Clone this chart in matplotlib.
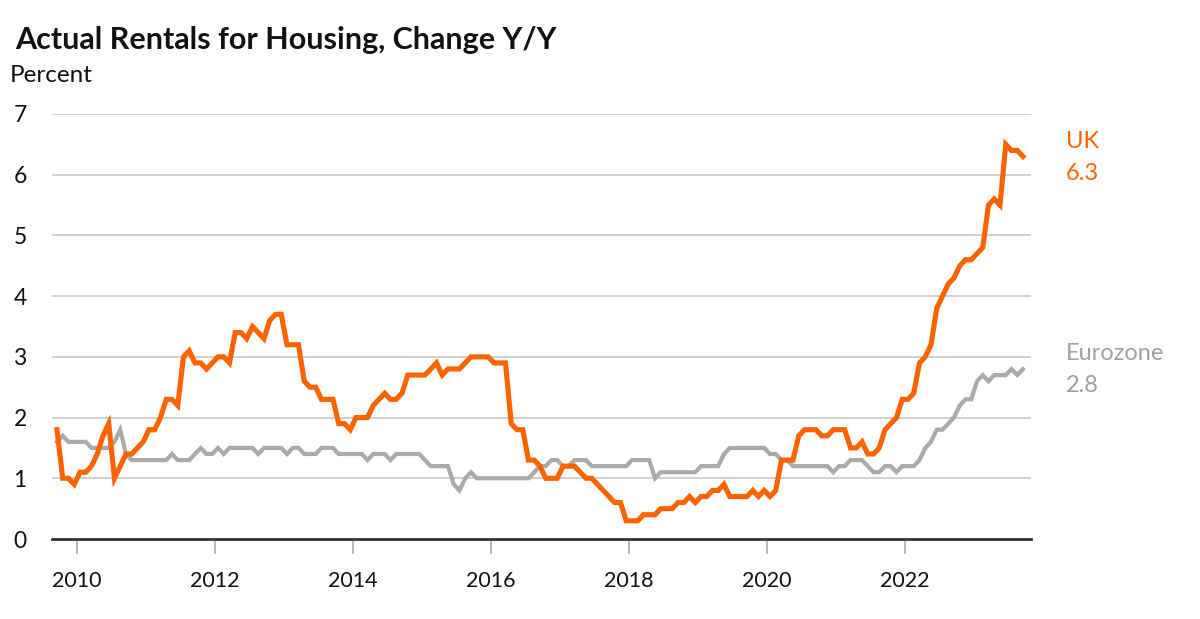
import matplotlib
matplotlib.use("Agg")
import matplotlib.pyplot as plt
import numpy as np

# Monthly data, first point ~Sep/Oct 2009, last ~Sep 2023
start_year = 2009.71
uk = [1.8, 1.0, 1.0, 0.9, 1.1, 1.1, 1.2, 1.4, 1.7, 1.9, 1.0, 1.2, 1.4, 1.4, 1.5, 1.6,
      1.8, 1.8, 2.0, 2.3, 2.3, 2.2, 3.0, 3.1,
      2.9, 2.9, 2.8, 2.9, 3.0, 3.0, 2.9, 3.4, 3.4, 3.3, 3.5, 3.4, 3.3, 3.6, 3.7, 3.7,
      3.2, 3.2, 3.2, 2.6, 2.5, 2.5, 2.3, 2.3, 2.3, 1.9, 1.9, 1.8, 2.0, 2.0, 2.0, 2.2,
      2.3, 2.4, 2.3, 2.3, 2.4, 2.7, 2.7, 2.7, 2.7, 2.8, 2.9, 2.7, 2.8, 2.8, 2.8, 2.9,
      3.0, 3.0, 3.0, 3.0, 2.9, 2.9, 2.9, 1.9, 1.8, 1.8, 1.3, 1.3, 1.2, 1.0, 1.0, 1.0,
      1.2, 1.2, 1.2, 1.1, 1.0, 1.0, 0.9, 0.8, 0.7, 0.6, 0.6, 0.3, 0.3, 0.3, 0.4, 0.4,
      0.4, 0.5, 0.5, 0.5, 0.6, 0.6, 0.7, 0.6, 0.7, 0.7, 0.8, 0.8, 0.9, 0.7, 0.7, 0.7,
      0.7, 0.8, 0.7, 0.8, 0.7, 0.8, 1.3, 1.3, 1.3, 1.7, 1.8, 1.8, 1.8, 1.7, 1.7, 1.8,
      1.8, 1.8, 1.5, 1.5, 1.6, 1.4, 1.4, 1.5, 1.8, 1.9, 2.0, 2.3, 2.3, 2.4, 2.9, 3.0,
      3.2, 3.8, 4.0, 4.2, 4.3, 4.5, 4.6, 4.6, 4.7, 4.8, 5.5, 5.6, 5.5, 6.5, 6.4, 6.4,
      6.3]
eurozone = [1.6, 1.7, 1.6, 1.6, 1.6, 1.6, 1.5, 1.5, 1.5, 1.5, 1.6, 1.8, 1.4, 1.3, 1.3, 1.3,
            1.3, 1.3, 1.3, 1.3, 1.4, 1.3, 1.3, 1.3,
            1.4, 1.5, 1.4, 1.4, 1.5, 1.4, 1.5, 1.5, 1.5, 1.5, 1.5, 1.4, 1.5, 1.5, 1.5, 1.5,
            1.4, 1.5, 1.5, 1.4, 1.4, 1.4, 1.5, 1.5, 1.5, 1.4, 1.4, 1.4, 1.4, 1.4, 1.3, 1.4,
            1.4, 1.4, 1.3, 1.4, 1.4, 1.4, 1.4, 1.4, 1.3, 1.2, 1.2, 1.2, 1.2, 0.9, 0.8, 1.0,
            1.1, 1.0, 1.0, 1.0, 1.0, 1.0, 1.0, 1.0, 1.0, 1.0, 1.0, 1.1, 1.2, 1.2, 1.3, 1.3,
            1.2, 1.2, 1.3, 1.3, 1.3, 1.2, 1.2, 1.2, 1.2, 1.2, 1.2, 1.2, 1.3, 1.3, 1.3, 1.3,
            1.0, 1.1, 1.1, 1.1, 1.1, 1.1, 1.1, 1.1, 1.2, 1.2, 1.2, 1.2, 1.4, 1.5, 1.5, 1.5,
            1.5, 1.5, 1.5, 1.5, 1.4, 1.4, 1.3, 1.3, 1.2, 1.2, 1.2, 1.2, 1.2, 1.2, 1.2, 1.1,
            1.2, 1.2, 1.3, 1.3, 1.3, 1.2, 1.1, 1.1, 1.2, 1.2, 1.1, 1.2, 1.2, 1.2, 1.3, 1.5,
            1.6, 1.8, 1.8, 1.9, 2.0, 2.2, 2.3, 2.3, 2.6, 2.7, 2.6, 2.7, 2.7, 2.7, 2.8, 2.7,
            2.8]
year_ticks = [2010, 2012, 2014, 2016, 2018, 2020, 2022]
y_ticks = [0, 1, 2, 3, 4, 5, 6, 7]
title = "Actual Rentals for Housing, Change Y/Y"
unit_label = "Percent"

ORANGE = "#FF6200"
GREY = "#AAAAAA"
FONT = "Lato"

t = start_year + np.arange(len(uk)) / 12.0

fig = plt.figure(figsize=(12, 6.19), dpi=100)
ax = fig.add_axes([52/1200, 80/619, 979/1200, 425/619])

for yv in y_ticks[1:]:
    ax.axhline(yv, color="#C8C8C8", lw=1.2, zorder=1)

ax.plot(t, eurozone, color=GREY, lw=3.0, zorder=3, solid_joinstyle="miter")
ax.plot(t, uk, color=ORANGE, lw=3.7, zorder=4, solid_joinstyle="miter")

ax.set_xlim(2009.638, 2023.826)
ax.set_ylim(0, 7)
for s in ["top", "right", "left"]:
    ax.spines[s].set_visible(False)
ax.spines["bottom"].set_color("#333333")
ax.spines["bottom"].set_linewidth(2)
ax.spines["bottom"].set_zorder(5)

ax.set_xticks(year_ticks)
ax.set_xticklabels([str(y) for y in year_ticks], fontsize=15.5, family=FONT, color="#111111")
ax.tick_params(axis="x", direction="out", length=11, width=1.2, color="#AAAAAA", pad=12)
ax.set_yticks(y_ticks)
ax.set_yticklabels([str(v) for v in y_ticks], fontsize=16.5, family=FONT, color="#111111",
                   ha="center")
ax.tick_params(axis="y", length=0, pad=23)

fig.text(15/1200, 1 - 40/619, title, fontsize=22, fontweight="bold", family=FONT,
         color="#111111", va="center", ha="left")
fig.text(10/1200, 1 - 75/619, unit_label, fontsize=17.5, family=FONT, color="#111111",
         va="center", ha="left")

fig.text(1066/1200, 1 - 141/619, "UK", fontsize=17, family=FONT, color=ORANGE, va="center")
fig.text(1066/1200, 1 - 174/619, f"{uk[-1]:.1f}", fontsize=17, family=FONT, color=ORANGE, va="center")
fig.text(1066/1200, 1 - 353/619, "Eurozone", fontsize=17, family=FONT, color="#A0A0A0", va="center")
fig.text(1066/1200, 1 - 386/619, f"{eurozone[-1]:.1f}", fontsize=17, family=FONT, color="#A0A0A0", va="center")

fig.savefig("out.png", dpi=100, facecolor="white")
